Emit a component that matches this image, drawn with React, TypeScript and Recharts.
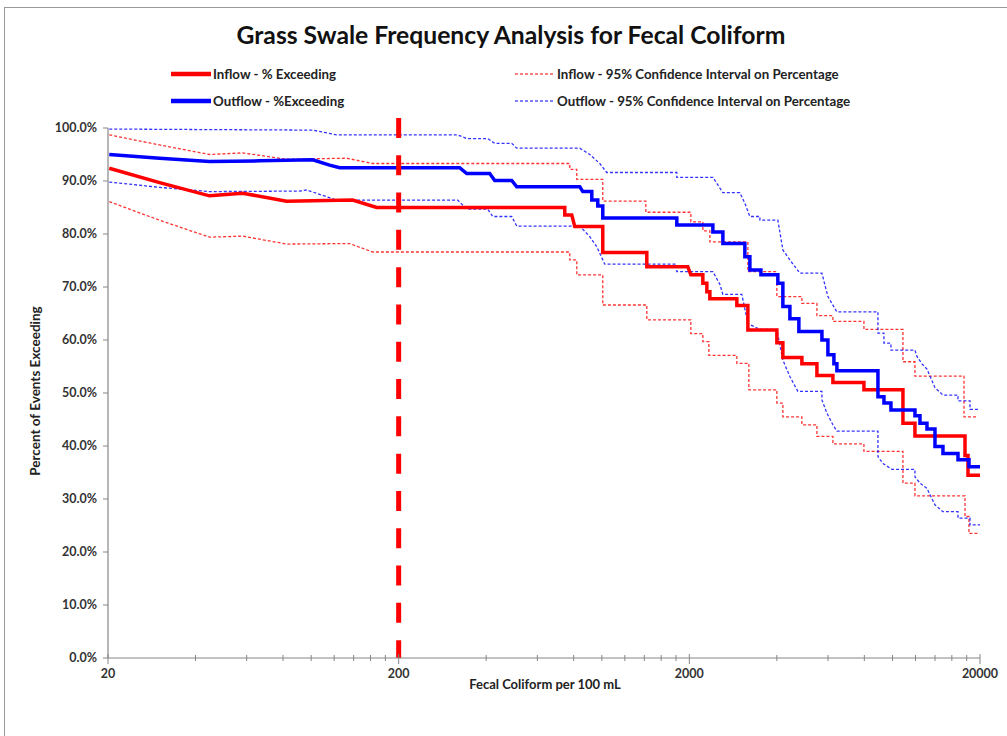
import { LineChart, Line, XAxis, YAxis, ReferenceLine } from 'recharts';

// Frequency analysis data: [Fecal Coliform per 100 mL, % of events exceeding]
const inflow: [number, number][] = [
  [20.2, 92.4], [30.1, 89.7], [44.7, 87.2], [58.1, 87.7], [82.3, 86.2], [138.9, 86.4], [168, 85.0],
  [745.6, 85.0], [745.6, 83.6], [788, 83.6], [807, 81.4], [1007.5, 81.4], [1007.5, 76.5],
  [1428, 76.5], [1428, 73.8], [1976, 73.8], [2024, 72.3], [2226, 72.3], [2226, 70.7], [2298, 70.7],
  [2298, 69.1], [2353, 69.1], [2353, 67.8], [2914, 67.8], [2914, 66.5], [3180, 66.5], [3180, 61.9],
  [4001, 61.9], [4001, 59.5], [4196, 59.5], [4196, 56.7], [4878, 56.7], [4878, 55.5], [5495, 55.5],
  [5495, 53.3], [6237, 53.3], [6237, 52.0], [7975, 52.0], [7975, 50.6], [10862, 50.6], [10862, 44.3],
  [11946, 44.3], [11946, 41.9], [17760, 41.9], [17760, 38.2], [18186, 38.2], [18186, 34.5], [20000, 34.5],
];

const outflow: [number, number][] = [
  [20.2, 95.0], [30.1, 94.3], [44.7, 93.7], [66.4, 93.8], [101.2, 94.0], [115.7, 93.0], [125.3, 92.5],
  [324.3, 92.5], [342.8, 91.4], [411.4, 91.4], [428, 90.1], [489.8, 90.1], [509.6, 88.9], [839.8, 88.9],
  [859.9, 88.0], [923.5, 88.0], [923.5, 86.4], [968.4, 86.4], [968.4, 85.3], [1007.5, 85.3], [1007.5, 83.0],
  [1811, 83.0], [1811, 81.7], [2410, 81.7], [2410, 80.4], [2609, 80.4], [2609, 78.2], [3105, 78.2],
  [3105, 75.7], [3231, 75.7], [3231, 73.2], [3526, 73.2], [3526, 72.3], [4033, 72.3], [4033, 70.7],
  [4196, 70.7], [4196, 66.3], [4436, 66.3], [4436, 64.0], [4763, 64.0], [4763, 61.6], [5717, 61.6],
  [5717, 60.0], [5995, 60.0], [5995, 57.2], [6287, 57.2], [6287, 55.5], [6437, 55.5], [6437, 54.2],
  [8911, 54.2], [8911, 49.3], [9345, 49.3], [9345, 48.1], [9877, 48.1], [9877, 46.8], [11946, 46.8],
  [11946, 45.7], [12430, 45.7], [12430, 44.3], [13140, 44.3], [13140, 43.2], [14000, 43.2], [14000, 39.9],
  [14915, 39.9], [14915, 38.6], [16800, 38.6], [16800, 37.4], [18330, 37.4], [18330, 36.1], [20000, 36.1],
];

const inflowUpper: [number, number][] = [
  [20.2, 98.7], [30.1, 96.8], [44.7, 95.0], [58.1, 95.3], [82.3, 94.1], [132.5, 94.3], [162.7, 93.3],
  [775.7, 93.3], [775.7, 92.2], [820, 92.2], [820, 90.3], [1007.5, 90.3], [1007.5, 86.2], [1417, 86.2],
  [1417, 84.1], [2024, 84.1], [2024, 82.3], [2226, 82.3], [2226, 80.6], [2353, 80.6], [2353, 78.5],
  [3180, 78.5], [3180, 72.9], [4001, 72.9], [4001, 68.2], [4878, 68.2], [4878, 66.9], [5495, 66.9],
  [5495, 64.6], [6237, 64.6], [6237, 63.5], [7975, 63.5], [7975, 62.0], [10862, 62.0], [10862, 55.9],
  [11946, 55.9], [11946, 53.2], [17620, 53.2], [17620, 45.5], [19684, 45.5],
];

const inflowLower: [number, number][] = [
  [20.2, 86.1], [30.1, 82.6], [44.7, 79.4], [58.1, 79.6], [82.3, 78.1], [135.6, 78.2], [162.7, 76.6],
  [775.7, 76.6], [775.7, 75.1], [820, 75.1], [820, 72.3], [1007.5, 72.3], [1007.5, 66.6], [1428, 66.6],
  [1428, 63.8], [2024, 63.8], [2024, 61.2], [2226, 61.2], [2226, 59.7], [2335, 59.7], [2335, 57.1],
  [2914, 57.1], [2914, 55.6], [3205, 55.6], [3205, 50.6], [4001, 50.6], [4001, 48.1], [4196, 48.1],
  [4196, 45.5], [4878, 45.5], [4878, 44.0], [5495, 44.0], [5495, 41.8], [6237, 41.8], [6237, 40.4],
  [7975, 40.4], [7975, 39.0], [10862, 39.0], [10862, 33.0], [11946, 33.0], [11946, 30.6], [17760, 30.6],
  [17760, 26.7], [18330, 26.7], [18330, 23.5], [19684, 23.5],
];

const outflowUpper: [number, number][] = [
  [20.2, 99.8], [44.7, 99.7], [101.2, 99.6], [122.4, 98.7], [319.3, 98.7], [342.8, 98.0], [404.9, 98.0],
  [428, 97.1], [489.8, 97.1], [509.6, 96.2], [839.8, 96.2], [908.9, 95.0], [984, 93.3], [1040, 91.6],
  [1811, 91.6], [1811, 90.7], [2410, 90.7], [2609, 87.8], [2984, 87.8], [3105, 85.8], [3231, 83.3],
  [3498, 83.3], [3498, 82.6], [4033, 82.6], [4196, 77.0], [4436, 75.1], [4801, 72.6], [5717, 72.6],
  [5995, 68.2], [6437, 65.3], [8911, 65.3], [8911, 61.3], [9345, 61.3], [9345, 59.4], [9877, 59.4],
  [9877, 58.1], [11946, 58.1], [12137, 56.9], [12628, 55.5], [13140, 54.5], [14000, 51.0], [14915, 49.6],
  [16800, 49.6], [16800, 48.5], [18476, 48.5], [18476, 46.9], [19684, 46.9],
];

const outflowLower: [number, number][] = [
  [20.2, 89.8], [30.1, 88.8], [44.7, 88.0], [91.3, 88.1], [96.5, 88.3], [122.4, 86.4], [319.3, 86.4],
  [342.8, 84.7], [404.9, 84.7], [421.3, 83.3], [489.8, 83.3], [509.6, 81.5], [839.8, 81.5], [908.9, 79.5],
  [960.7, 77.6], [1023.6, 74.3], [1811, 74.3], [1811, 72.9], [2410, 72.9], [2547, 70.5], [2609, 68.6],
  [3032, 68.6], [3180, 63.1], [3498, 62.0], [4001, 62.0], [4196, 56.2], [4436, 53.1], [4726, 50.3],
  [5717, 50.3], [5717, 48.7], [5948, 46.2], [6237, 44.0], [6437, 42.8], [8911, 42.8], [8911, 38.0],
  [9271, 36.7], [9956, 35.6], [11946, 35.6], [11946, 34.2], [12430, 33.0], [13140, 32.0], [14000, 28.9],
  [14915, 27.6], [16800, 27.6], [16800, 26.4], [18476, 26.4], [18476, 25.1], [20000, 25.1],
];

const standardLimit = 200; // fecal coliform standard
const majorTicks = [20, 200, 2000, 20000];
const minorMultipliers = [2, 3, 4, 5, 6, 7, 8, 9];
const yTicks = [0, 10, 20, 30, 40, 50, 60, 70, 80, 90, 100];

const xTicks: number[] = [];
majorTicks.forEach((m, i) => {
  xTicks.push(m);
  if (i < majorTicks.length - 1) minorMultipliers.forEach((k) => xTicks.push(m * k));
});

const toPoints = (arr: [number, number][]) => arr.map(([x, y]) => ({ x, y }));

const FONT = 'Lato, "Open Sans", sans-serif';
const AXIS_GRAY = '#868686';

const XTick = (props: any) => {
  const { x, y, payload } = props;
  const axisY = y - 8;
  const major = majorTicks.includes(payload.value);
  return (
    <g>
      <line x1={x} x2={x} y1={major ? axisY - 4 : axisY - 3} y2={major ? axisY + 6 : axisY + 3} stroke={AXIS_GRAY} />
      {major && (
        <text x={x} y={axisY + 20} textAnchor="middle" fontSize={12.5} fontWeight={700} fill="#333" fontFamily={FONT}>
          {payload.value}
        </text>
      )}
    </g>
  );
};

export default function App() {
  const legendItem = (left: number, top: number, color: string, dashed: boolean, label: string) => (
    <div style={{ position: 'absolute', left, top, display: 'flex', alignItems: 'center' }}>
      <svg width={40} height={8}>
        <line x1={0} x2={40} y1={4} y2={4} stroke={color} strokeWidth={dashed ? 1.2 : 4.5} strokeDasharray={dashed ? '3 2' : undefined} />
      </svg>
      <span style={{ fontSize: 13.3, fontWeight: 700, color: '#222', marginLeft: 2 }}>{label}</span>
    </div>
  );

  return (
    <div style={{ position: 'absolute', left: 0, top: 0, width: 1007, height: 736, overflow: 'hidden', background: '#fff', fontFamily: FONT }}>
      <div style={{ position: 'absolute', left: 4, top: 7, width: 1003, height: 729, borderLeft: '1px solid #999', borderTop: '1px solid #999' }} />
      <div style={{ position: 'absolute', left: 0, width: 1022, top: 20, textAlign: 'center', fontSize: 24.7, fontWeight: 700, color: '#111' }}>
        Grass Swale Frequency Analysis for Fecal Coliform
      </div>
      {legendItem(171, 66, '#ff0000', false, 'Inflow - % Exceeding')}
      {legendItem(171, 93, '#0000ff', false, 'Outflow - %Exceeding')}
      {legendItem(515, 66, '#ff0000', true, 'Inflow - 95% Confidence Interval on Percentage')}
      {legendItem(515, 93, '#0000ff', true, 'Outflow - 95% Confidence Interval on Percentage')}
      <div style={{ position: 'absolute', left: 35, top: 391, transform: 'translate(-50%, -50%) rotate(-90deg)', whiteSpace: 'nowrap', fontSize: 13.5, fontWeight: 700, color: '#222' }}>
        Percent of Events Exceeding
      </div>
      <div style={{ position: 'absolute', left: 545, top: 684, transform: 'translate(-50%, -50%)', whiteSpace: 'nowrap', fontSize: 13, fontWeight: 700, color: '#222' }}>
        Fecal Coliform per 100 mL
      </div>
      <div style={{ position: 'absolute', left: 0, top: 0 }}>
        <LineChart width={1007} height={736} margin={{ top: 128, right: 27, bottom: 48, left: 48 }}>
          <XAxis
            dataKey="x"
            type="number"
            scale="log"
            domain={[20, 20000]}
            allowDataOverflow
            ticks={xTicks}
            interval={0}
            tick={<XTick />}
            tickLine={false}
            tickSize={6}
            tickMargin={2}
            height={30}
            axisLine={{ stroke: AXIS_GRAY, strokeWidth: 1.2 }}
          />
          <YAxis
            type="number"
            domain={[0, 100]}
            ticks={yTicks}
            interval={0}
            width={60}
            tickSize={5}
            tickMargin={6}
            tickFormatter={(v: number) => `${v.toFixed(1)}%`}
            tick={{ fontSize: 12.5, fontWeight: 700, fill: '#333', fontFamily: FONT }}
            tickLine={{ stroke: AXIS_GRAY }}
            axisLine={{ stroke: AXIS_GRAY, strokeWidth: 1.2 }}
          />
          <Line data={toPoints(inflowUpper)} dataKey="y" type="linear" stroke="#ff0000" strokeOpacity={0.8} strokeWidth={1.3} strokeDasharray="3 2" dot={false} isAnimationActive={false} />
          <Line data={toPoints(inflowLower)} dataKey="y" type="linear" stroke="#ff0000" strokeOpacity={0.8} strokeWidth={1.3} strokeDasharray="3 2" dot={false} isAnimationActive={false} />
          <Line data={toPoints(outflowUpper)} dataKey="y" type="linear" stroke="#0000ff" strokeOpacity={0.8} strokeWidth={1.3} strokeDasharray="3 2" dot={false} isAnimationActive={false} />
          <Line data={toPoints(outflowLower)} dataKey="y" type="linear" stroke="#0000ff" strokeOpacity={0.8} strokeWidth={1.3} strokeDasharray="3 2" dot={false} isAnimationActive={false} />
          <Line data={toPoints(inflow)} dataKey="y" type="linear" stroke="#ff0000" strokeWidth={3.5} dot={false} isAnimationActive={false} />
          <Line data={toPoints(outflow)} dataKey="y" type="linear" stroke="#0000ff" strokeWidth={3.5} dot={false} isAnimationActive={false} />
          <ReferenceLine
            segment={[{ x: standardLimit, y: 101.9 }, { x: standardLimit, y: 0 }]}
            ifOverflow="visible"
            stroke="#ff0000"
            strokeWidth={5}
            strokeDasharray="20 17.3"
          />
        </LineChart>
      </div>
    </div>
  );
}
